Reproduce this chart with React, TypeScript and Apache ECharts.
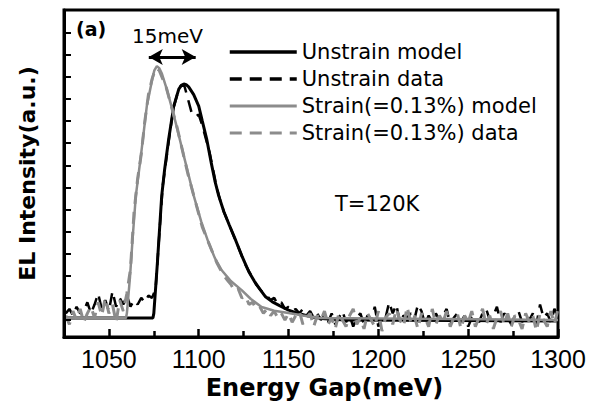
import React, { useEffect, useRef } from "react";
import * as echarts from "echarts";

// ---- Tick positions ----
const xMajorTicks = [1050, 1100, 1150, 1200, 1250, 1300];
const xMinorTicks = [1075, 1125, 1175, 1225, 1275];
const yTicks = [0, 1, 2, 3, 4, 5, 6, 7, 8, 9, 10, 11, 12, 13];

// ---- Model curves (energy meV, intensity a.u.) ----
const unstrainModelE = [1025, 1074.5, 1075, 1077, 1079.4, 1081, 1083.3, 1086.1, 1088.9, 1090.3, 1091.7, 1093, 1094.4, 1097.2, 1100, 1102, 1104.4, 1107, 1109, 1111.1, 1114, 1117, 1120.6, 1124, 1127.8, 1131, 1134, 1137.2, 1141, 1145, 1150, 1156, 1162.8, 1170, 1181.7, 1300];
const unstrainModelI = [0.09, 0.09, 0.3, 2.6, 5.63, 6.8, 8.2, 9.68, 10.45, 10.62, 10.68, 10.65, 10.55, 10.2, 9.68, 9.0, 8.2, 7.1, 6.3, 5.63, 4.9, 4.3, 3.6, 2.9, 2.2, 1.75, 1.4, 1.05, 0.82, 0.65, 0.45, 0.28, 0.14, 0.06, 0.0, -0.05];

const strainModelE = [1025, 1059.5, 1060, 1061.7, 1063.3, 1065, 1067.8, 1071.1, 1073.9, 1075.3, 1076.7, 1078, 1079.4, 1082.2, 1084.7, 1087.2, 1091.7, 1097.2, 1101.4, 1105.6, 1109, 1112.8, 1118, 1123.9, 1129, 1135, 1142, 1150, 1158, 1166.7, 1300];
const strainModelI = [0.09, 0.09, 0.3, 1.9, 3.8, 5.63, 7.43, 9.68, 10.81, 11.3, 11.49, 11.4, 11.17, 10.45, 9.7, 8.92, 7.43, 5.63, 4.45, 3.47, 2.8, 2.25, 1.75, 1.35, 0.95, 0.59, 0.42, 0.32, 0.2, 0.09, 0.0];

// ---- Measured data (energy grid, meV) ----
const dataEnergy = [
  1026, 1028, 1030, 1032, 1034, 1036, 1038, 1040, 1042, 1044,
  1046, 1048, 1050, 1052, 1054, 1056, 1058, 1060, 1062, 1064,
  1066, 1068, 1070, 1072, 1074, 1076, 1078, 1080, 1082, 1084,
  1086, 1088, 1090, 1092, 1094, 1096, 1098, 1100, 1102, 1104,
  1106, 1108, 1110, 1112, 1114, 1116, 1118, 1120, 1122, 1124,
  1126, 1128, 1130, 1132, 1134, 1136, 1138, 1140, 1142, 1144,
  1146, 1148, 1150, 1152, 1154, 1156, 1158, 1160, 1162, 1164,
  1166, 1168, 1170, 1172, 1174, 1176, 1178, 1180, 1182, 1184,
  1186, 1188, 1190, 1192, 1194, 1196, 1198, 1200, 1202, 1204,
  1206, 1208, 1210, 1212, 1214, 1216, 1218, 1220, 1222, 1224,
  1226, 1228, 1230, 1232, 1234, 1236, 1238, 1240, 1242, 1244,
  1246, 1248, 1250, 1252, 1254, 1256, 1258, 1260, 1262, 1264,
  1266, 1268, 1270, 1272, 1274, 1276, 1278, 1280, 1282, 1284,
  1286, 1288, 1290, 1292, 1294, 1296, 1298, 1300,
];

const unstrainData = [
  0.3, 0.5, 0.2, 0.6, 0.3, 0.4, 0.8, 0.3, 0.7, 1.2,
  0.5, 0.9, 0.4, 1.3, 0.6, 1.0, 0.7, 1.1, 0.6, 0.9,
  0.7, 1.0, 0.8, 1.1, 1.0, 1.4, 3.8, 6.1, 7.3, 8.5,
  9.6, 10.2, 10.6, 10.6, 10.0, 9.4, 9.2, 9.3, 8.8, 8.2,
  7.6, 6.8, 6.0, 5.4, 4.9, 4.5, 4.1, 3.7, 3.3, 2.9,
  2.5, 2.2, 1.9, 1.6, 1.4, 1.2, 1.1, 0.9, 1.0, 0.7,
  0.8, 0.5, 0.6, 0.4, 0.5, 0.3, 0.5, 0.2, 0.4, 0.1,
  0.3, 0.0, 0.2, -0.1, 0.3, -0.2, 0.1, 0.4, -0.1, 0.2,
  -0.3, 0.1, 0.3, -0.2, 0.2, 0.0, 0.6, -0.3, 0.2, 0.1,
  0.8, 0.3, 0.7, -0.1, 0.2, 0.1, 0.3, 0.0, 0.7, 0.4,
  -0.2, 0.2, -0.1, 0.3, 0.0, 0.2, 0.5, -0.2, 0.1, 0.3,
  -0.1, 0.2, -0.3, 0.1, 0.2, -0.1, 0.3, 0.5, 0.0, 0.2,
  0.6, -0.1, 0.3, 0.1, -0.2, 0.2, 0.4, -0.1, 0.2, 0.0,
  0.3, -0.2, 0.7, 0.1, 0.3, -0.1, 0.5, 0.2,
];

const strainData = [
  0.2, -0.2, 0.4, 0.0, 0.5, -0.1, 0.3, 0.6, 0.1, 0.8,
  0.2, 1.0, 0.3, 0.7, -0.1, 0.9, 0.4, 1.2, 2.3, 4.9,
  6.4, 7.5, 9.0, 10.2, 10.9, 11.4, 11.3, 10.9, 10.5, 9.9,
  9.3, 8.7, 8.0, 7.3, 6.6, 6.0, 5.4, 4.8, 4.2, 3.8,
  3.4, 3.0, 2.6, 2.3, 2.0, 1.8, 1.6, 1.3, 1.4, 1.0,
  1.1, 0.7, 0.8, 0.5, 0.6, 0.3, 0.5, 0.2, 0.4, 0.1,
  0.3, 0.0, 0.3, -0.1, 0.2, 0.4, -0.2, 0.1, 0.3, -0.3,
  0.2, 0.0, 0.4, -0.2, 0.1, -0.4, 0.3, 0.0, -0.3, 0.2,
  0.5, -0.2, 0.1, -0.4, 0.3, 0.0, -0.3, 0.4, -0.5, 0.1,
  0.3, -0.2, 0.5, 0.0, -0.3, 0.6, -0.1, 0.2, -0.4, 0.3,
  0.1, -0.3, 0.5, -0.2, 0.2, -0.1, 0.4, -0.3, 0.1, 0.3,
  -0.4, 0.2, -0.1, 0.4, -0.3, 0.1, 0.5, -0.2, 0.2, -0.4,
  0.1, 0.4, -0.2, 0.3, -0.3, 0.2, 0.0, -0.4, 0.3, -0.1,
  0.2, -0.5, 0.3, 0.0, -0.3, 0.4, -0.2, 0.5,
];

// ---- Annotation values ----
const arrowFrom = [1072.2, 11.9];
const arrowTo = [1098.3, 11.9];

const seriesNames = [
  "Unstrain model",
  "Unstrain data",
  "Strain(=0.13%) model",
  "Strain(=0.13%) data",
];

const BLACK = "#000000";
const GRAY = "#8c8c8c";

const zip = (xs: number[], ys: number[]) => xs.map((x, i) => [x, ys[i]]);

export default function App() {
  const ref = useRef<HTMLDivElement>(null);

  useEffect(() => {
    if (!ref.current) return;
    const chart = echarts.init(ref.current, null, { renderer: "svg" });
    const legendWidths = [3.5, 3.5, 3, 3];
    const gridTop = 10;
    const gridBottom = 68;
    const plotHeight = 405 - gridTop - gridBottom;
    const option: any = {
      animation: false,
      backgroundColor: "#ffffff",
      grid: {
        left: 64,
        right: 42,
        top: gridTop,
        bottom: gridBottom,
        show: true,
        borderColor: BLACK,
        borderWidth: 3,
        backgroundColor: "transparent",
      },
      legend: {
        orient: "vertical",
        left: 228,
        top: 41,
        padding: 0,
        itemWidth: 67,
        itemHeight: 14,
        itemGap: 5,
        selectedMode: false,
        itemStyle: { color: "transparent", borderColor: "transparent", borderWidth: 0, opacity: 0 },
        textStyle: {
          fontSize: 21,
          fontFamily: "DejaVu Sans",
          color: BLACK,
          lineHeight: 22,
        },
        data: seriesNames.map((name, i) => ({
          name,
          lineStyle: { width: legendWidths[i] },
        })),
      },
      xAxis: [
        {
          type: "value",
          min: 1025,
          max: 1300,
          position: "bottom",
          z: 10,
          axisLine: { show: true, onZero: false, lineStyle: { color: BLACK, width: 3 } },
          axisTick: {
            show: true,
            inside: true,
            length: 8,
            customValues: xMajorTicks,
            lineStyle: { color: BLACK, width: 2.5 },
          },
          axisLabel: {
            show: true,
            customValues: xMajorTicks,
            formatter: (v: number) => String(v),
            margin: 9,
            fontSize: 25,
            fontFamily: "Liberation Sans",
            color: BLACK,
          },
          splitLine: { show: false },
          name: "Energy Gap(meV)",
          nameLocation: "middle",
          nameGap: 37,
          nameTextStyle: {
            fontSize: 24,
            fontWeight: "bold",
            fontFamily: "DejaVu Sans",
            color: BLACK,
            padding: [0, 0, 0, 27],
          },
        },
        {
          // minor ticks: a top-positioned axis shifted down onto the bottom edge
          type: "value",
          min: 1025,
          max: 1300,
          position: "top",
          offset: -plotHeight,
          z: 10,
          axisLine: { show: false, onZero: false },
          axisTick: {
            show: true,
            inside: false,
            length: 6,
            customValues: xMinorTicks,
            lineStyle: { color: BLACK, width: 2.5 },
          },
          axisLabel: { show: false },
          splitLine: { show: false },
        },
      ],
      yAxis: {
        type: "value",
        min: -0.77,
        max: 14.03,
        z: 10,
        axisLine: { show: true, onZero: false, lineStyle: { color: BLACK, width: 3 } },
        axisTick: {
          show: true,
          inside: true,
          length: 7,
          customValues: yTicks,
          lineStyle: { color: BLACK, width: 2 },
        },
        axisLabel: { show: false },
        splitLine: { show: false },
        name: "EL Intensity(a.u.)",
        nameLocation: "middle",
        nameGap: 26,
        nameTextStyle: {
          fontSize: 22,
          fontWeight: "bold",
          fontFamily: "DejaVu Sans",
          color: BLACK,
        },
      },
      graphic: [
        {
          type: "text",
          x: 76,
          y: 28.5,
          style: {
            text: "(a)",
            fontSize: 19,
            fontWeight: "bold",
            fontFamily: "DejaVu Sans",
            fill: BLACK,
            align: "left",
            verticalAlign: "middle",
          },
        },
        {
          type: "text",
          x: 132,
          y: 36,
          style: {
            text: "15meV",
            fontSize: 20,
            fontFamily: "DejaVu Sans",
            fill: BLACK,
            align: "left",
            verticalAlign: "middle",
          },
        },
        {
          type: "text",
          x: 335,
          y: 204,
          style: {
            text: "T=120K",
            fontSize: 21,
            fontFamily: "DejaVu Sans",
            fill: BLACK,
            align: "left",
            verticalAlign: "middle",
          },
        },
      ],
      series: [
        {
          name: seriesNames[0],
          type: "line",
          data: zip(unstrainModelE, unstrainModelI),
          symbol: "none",
          showSymbol: false,
          lineStyle: { color: BLACK, width: 3 },
          itemStyle: { color: BLACK },
          z: 3,
          markLine: {
            silent: true,
            symbol: ["arrow", "arrow"],
            symbolSize: [12, 14],
            label: { show: false },
            lineStyle: { color: BLACK, width: 3, type: "solid" },
            data: [[{ coord: arrowFrom }, { coord: arrowTo }]],
          },
        },
        {
          name: seriesNames[1],
          type: "line",
          data: zip(dataEnergy, unstrainData),
          symbol: "none",
          showSymbol: false,
          lineStyle: { color: BLACK, width: 2.5, type: [12, 8] },
          itemStyle: { color: BLACK },
          z: 2,
        },
        {
          name: seriesNames[2],
          type: "line",
          data: zip(strainModelE, strainModelI),
          symbol: "none",
          showSymbol: false,
          lineStyle: { color: GRAY, width: 2.5 },
          itemStyle: { color: GRAY },
          z: 3,
        },
        {
          name: seriesNames[3],
          type: "line",
          data: zip(dataEnergy, strainData),
          symbol: "none",
          showSymbol: false,
          lineStyle: { color: GRAY, width: 3, type: [12, 8] },
          itemStyle: { color: GRAY },
          z: 4,
        },
      ],
    };
    chart.setOption(option);
    return () => chart.dispose();
  }, []);

  return (
    <div
      ref={ref}
      style={{ position: "absolute", left: 0, top: 0, width: 600, height: 405 }}
    />
  );
}
